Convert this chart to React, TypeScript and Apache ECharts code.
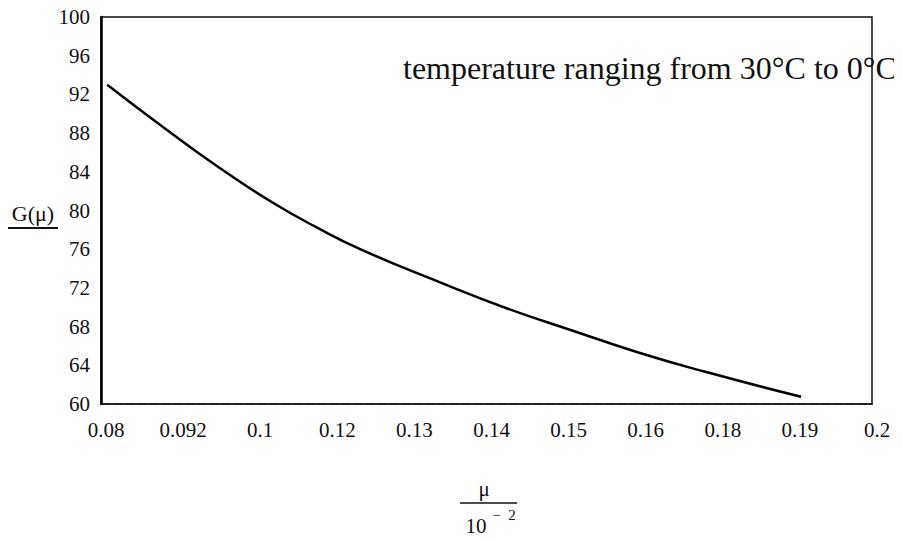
import React, { useEffect, useRef } from "react";
import * as echarts from "echarts";

const xTickLabels = ["0.08", "0.092", "0.1", "0.12", "0.13", "0.14", "0.15", "0.16", "0.18", "0.19", "0.2"];
const yTicks = [60, 64, 68, 72, 76, 80, 84, 88, 92, 96, 100];
// curve positions along the evenly spaced tick axis (tick index units) and G(mu) values
const curveX = [0.08, 0.86, 1.54, 2.23, 2.81, 3.39, 4.39, 5.26, 6.11, 6.98, 7.85, 9.08];
const curveG = [93.0, 88.3, 84.4, 80.8, 78.2, 75.9, 72.6, 69.9, 67.6, 65.3, 63.3, 60.75];
const noteText = "temperature ranging from 30\u00B0C to 0\u00B0C";

const FONT = "Liberation Serif";

export default function App() {
  const ref = useRef<HTMLDivElement>(null);
  useEffect(() => {
    if (!ref.current) return;
    const chart = echarts.init(ref.current, null, { renderer: "svg" });
    const data = curveX.map((x, i) => [x, curveG[i]]);
    chart.setOption({
      animation: false,
      backgroundColor: "#ffffff",
      textStyle: { fontFamily: FONT },
      grid: {
        left: 101,
        right: 30,
        top: 17,
        bottom: 137,
        show: true,
        borderColor: "#111",
        borderWidth: 1.5,
      },
      xAxis: {
        type: "value",
        min: 0,
        max: xTickLabels.length - 1,
        interval: 1,
        axisLine: { show: true, onZero: false, lineStyle: { color: "#111", width: 1.5, type: [10, 2] } },
        axisTick: { show: false },
        splitLine: { show: false },
        axisLabel: {
          color: "#111",
          fontFamily: FONT,
          fontSize: 21,
          margin: 15,
          padding: [0, 0, 0, 10],
          formatter: (v: number) => xTickLabels[Math.round(v)] ?? "",
        },
      },
      yAxis: {
        type: "value",
        min: yTicks[0],
        max: yTicks[yTicks.length - 1],
        interval: 4,
        axisLine: { show: true, lineStyle: { color: "#000", width: 2.5 } },
        axisTick: { show: false },
        splitLine: { show: false },
        axisLabel: {
          color: "#111",
          fontFamily: FONT,
          fontSize: 21,
          margin: 11,
        },
      },
      series: [
        {
          type: "line",
          data,
          smooth: true,
          showSymbol: false,
          lineStyle: { color: "#000", width: 2.5 },
        },
      ],
      graphic: [
        {
          type: "text",
          x: 403,
          y: 68,
          style: { text: noteText, font: `32px ${FONT}`, fill: "#111", verticalAlign: "middle" },
        },
        {
          type: "text",
          x: 33,
          y: 213,
          style: { text: "G(\u03BC)", font: `22px ${FONT}`, fill: "#111", align: "center", verticalAlign: "middle" },
        },
        {
          type: "line",
          shape: { x1: 8, y1: 228, x2: 58, y2: 228 },
          style: { stroke: "#111", lineWidth: 2 },
        },
        {
          type: "text",
          x: 484,
          y: 489,
          style: { text: "\u03BC", font: `21px ${FONT}`, fill: "#111", align: "center", verticalAlign: "middle" },
        },
        {
          type: "line",
          shape: { x1: 460, y1: 503, x2: 517, y2: 503 },
          style: { stroke: "#111", lineWidth: 1.5 },
        },
        {
          type: "text",
          x: 476,
          y: 526,
          style: { text: "10", font: `21px ${FONT}`, fill: "#111", align: "center", verticalAlign: "middle" },
        },
        {
          type: "text",
          x: 504,
          y: 515,
          style: { text: "\u2212  2", font: `15px ${FONT}`, fill: "#111", align: "center", verticalAlign: "middle" },
        },
      ],
    });
    return () => chart.dispose();
  }, []);
  return <div ref={ref} style={{ width: 902, height: 541, margin: -8 }} />;
}
